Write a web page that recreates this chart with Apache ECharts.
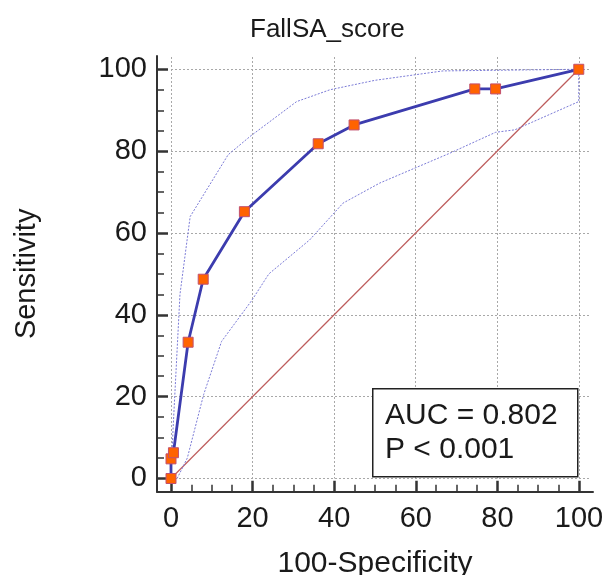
<!DOCTYPE html>
<html>
<head>
<meta charset="utf-8">
<script src="https://cdn.jsdelivr.net/npm/echarts@6/dist/echarts.min.js"></script>
<style>
  html, body { margin: 0; padding: 0; background: #fff; }
  #chart { width: 604px; height: 575px; }
</style>
</head>
<body>
<div id="chart"></div>
<script>
// ROC curve (100-Specificity vs Sensitivity)
const rocFpr = [0, 0, 0.6, 4.2, 7.9, 18, 36.1, 44.9, 74.5, 79.6, 100];
const rocTpr = [0, 4.8, 6.3, 33.3, 48.7, 65.2, 81.8, 86.4, 95.2, 95.2, 100];

// 95% confidence bounds
const upperFpr = [0, 0.5, 2.2, 4.7, 14, 19.4, 30.8, 39, 50, 66.7, 100];
const upperTpr = [0, 12, 45, 64, 79.1, 83.6, 92.1, 95, 97.3, 99.6, 100];
const lowerFpr = [1.5, 4, 8, 12.4, 19.8, 24, 34, 42.2, 51.2, 68.4, 79.6, 84.3, 100, 100];
const lowerTpr = [0, 5, 20.5, 33.5, 43.5, 50, 58.3, 67.3, 72.2, 79.5, 84.6, 85.2, 92.1, 100];

// reference diagonal
const diagFpr = [0, 100];
const diagTpr = [0, 100];

const majorTicks = [0, 20, 40, 60, 80, 100];
const minorTicks = [5, 10, 15, 25, 30, 35, 45, 50, 55, 65, 70, 75, 85, 90, 95];

const titleText = "FallSA_score";
const xName = "100-Specificity";
const yName = "Sensitivity";
const aucText = "AUC = 0.802";
const pText = "P < 0.001";

const FONT = "Liberation Sans, Arial, Helvetica, sans-serif";
const zip = (a, b) => a.map((v, i) => [v, b[i]]);

const chart = echarts.init(document.getElementById("chart"));

const gridStyle = { color: "#a8a8a8", width: 1, type: [2, 2] };

chart.setOption({
  animation: false,
  grid: [
    // data area
    { left: 171, right: 13, top: 57, bottom: 96.5, outerBoundsMode: "none" },
    // frame with major ticks
    { left: 157, right: 11, top: 56, bottom: 83.3, outerBoundsMode: "none" },
    // frame with minor ticks
    { left: 157, right: 11, top: 56, bottom: 83.3, outerBoundsMode: "none" },
  ],
  xAxis: [
    {
      gridIndex: 0, type: "value", min: 0, max: 103, interval: 20,
      axisLine: { show: false }, axisTick: { show: false }, axisLabel: { show: false },
      splitLine: { show: true, showMaxLine: false, lineStyle: gridStyle },
    },
    {
      gridIndex: 1, type: "value", min: -3.43, max: 103.43, position: "bottom",
      axisLine: { show: true, onZero: false, lineStyle: { color: "#333", width: 2 } },
      axisTick: { show: true, inside: true, length: 11, customValues: majorTicks, lineStyle: { color: "#333", width: 2.5 } },
      axisLabel: { show: true, customValues: majorTicks, margin: 13, fontSize: 29, color: "#1a1a1a", fontFamily: FONT },
      splitLine: { show: false },
      name: xName, nameLocation: "middle", nameGap: 57,
      nameTextStyle: { fontSize: 30, color: "#1a1a1a", fontFamily: FONT },
    },
    {
      gridIndex: 2, type: "value", min: -3.43, max: 103.43, position: "bottom",
      axisLine: { show: false, onZero: false },
      axisTick: { show: true, inside: true, length: 7, customValues: minorTicks, lineStyle: { color: "#333", width: 1.5 } },
      axisLabel: { show: false },
      splitLine: { show: false },
    },
  ],
  yAxis: [
    {
      gridIndex: 0, type: "value", min: 0, max: 103, interval: 20,
      axisLine: { show: false }, axisTick: { show: false }, axisLabel: { show: false },
      splitLine: { show: true, showMaxLine: false, lineStyle: gridStyle },
    },
    {
      gridIndex: 1, type: "value", min: -3.23, max: 103.3, position: "left",
      axisLine: { show: true, onZero: false, lineStyle: { color: "#333", width: 2 } },
      axisTick: { show: true, inside: true, length: 11, customValues: majorTicks, lineStyle: { color: "#333", width: 2.5 } },
      axisLabel: { show: true, customValues: majorTicks, margin: 10, fontSize: 29, color: "#1a1a1a", fontFamily: FONT },
      splitLine: { show: false },
      name: yName, nameLocation: "middle", nameGap: 116,
      nameTextStyle: { fontSize: 29, color: "#1a1a1a", fontFamily: FONT },
    },
    {
      gridIndex: 2, type: "value", min: -3.23, max: 103.3, position: "left",
      axisLine: { show: false, onZero: false },
      axisTick: { show: true, inside: true, length: 7, customValues: minorTicks, lineStyle: { color: "#333", width: 1.5 } },
      axisLabel: { show: false },
      splitLine: { show: false },
    },
  ],
  series: [
    {
      name: "diagonal", type: "line", xAxisIndex: 0, yAxisIndex: 0,
      data: zip(diagFpr, diagTpr), symbol: "none", z: 2,
      lineStyle: { color: "#bd5c5c", width: 1.2 },
    },
    {
      name: "upper", type: "line", xAxisIndex: 0, yAxisIndex: 0,
      data: zip(upperFpr, upperTpr), symbol: "none", z: 3,
      lineStyle: { color: "#7b7bd6", width: 1, type: [2, 1.5] },
    },
    {
      name: "lower", type: "line", xAxisIndex: 0, yAxisIndex: 0,
      data: zip(lowerFpr, lowerTpr), symbol: "none", z: 3,
      lineStyle: { color: "#7b7bd6", width: 1, type: [2, 1.5] },
    },
    {
      name: "ROC", type: "line", xAxisIndex: 0, yAxisIndex: 0,
      data: zip(rocFpr, rocTpr), z: 5,
      symbol: "rect", symbolSize: 10,
      itemStyle: { color: "#ff6300", borderColor: "#c2506e", borderWidth: 1 },
      lineStyle: { color: "#3c3cae", width: 2.8 },
    },
  ],
  graphic: [
    {
      type: "text", left: 250, top: 17,
      style: { text: titleText, fontSize: 26, fill: "#1a1a1a", fontFamily: FONT },
    },
    {
      type: "rect", left: 372, top: 388,
      shape: { width: 205, height: 88 },
      style: { fill: "#fff", stroke: "#222", lineWidth: 1.5 },
      z: 10,
    },
    {
      type: "text", left: 385, top: 401, z: 11,
      style: { text: aucText, fontSize: 30, fill: "#1a1a1a", fontFamily: FONT },
    },
    {
      type: "text", left: 385, top: 435, z: 11,
      style: { text: pText, fontSize: 30, fill: "#1a1a1a", fontFamily: FONT },
    },
  ],
});
</script>
</body>
</html>
